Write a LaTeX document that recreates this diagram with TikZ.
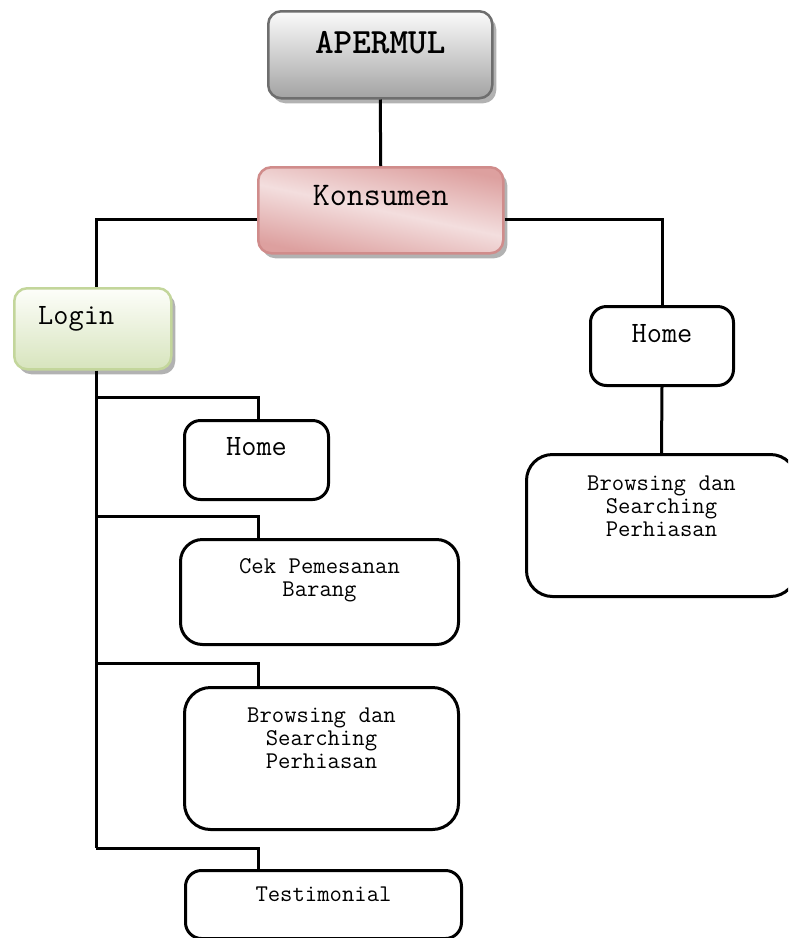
\documentclass[tikz,border=0pt]{standalone}
\usepackage{fontspec}
\usetikzlibrary{shadows}

\definecolor{grayL}{HTML}{FBFBFB}
\definecolor{grayD}{HTML}{A3A3A3}
\definecolor{grayB}{HTML}{6E6E6E}
\definecolor{pinkL}{HTML}{F3DEDE}
\definecolor{pinkD}{HTML}{D99594}
\definecolor{pinkB}{HTML}{D08C8B}
\definecolor{greenL}{HTML}{FDFEFA}
\definecolor{greenD}{HTML}{D7E4BD}
\definecolor{greenB}{HTML}{C3D69B}

\begin{document}
\begin{tikzpicture}[x=1pt,y=-1pt,line width=3pt]
	\tikzstyle{head}=[draw, line width=2.5pt, rounded corners=13pt, anchor=north west, inner sep=0pt, align=center, drop shadow={shadow xshift=4pt, shadow yshift=-5pt, fill=black!30, opacity=1}]
	\tikzstyle{page}=[draw, rounded corners=16pt, anchor=north west, inner sep=0pt, align=center, font=\ttfamily\fontsize{24}{23}\selectfont, execute at begin node={\spaceskip=0.525em\relax}]
	\tikzstyle{big}=[font=\ttfamily\fontsize{29.5}{32}\selectfont]

    \useasboundingbox (0,0) rectangle (788,938);
    \clip (0,0) rectangle (788,938);

    \node [head, top color=grayL, bottom color=grayD, draw=grayB, text width=224pt, text height=42pt, text depth=45pt, font=\ttfamily\bfseries\fontsize{35.5}{38}\selectfont] (apermul) at (267,10) {APERMUL};
    \node [head, top color=pinkD!90, bottom color=pinkD!90, middle color=pinkL, shading angle=-12, draw=pinkB, text width=245pt, text height=38pt, text depth=48pt, font=\ttfamily\fontsize{33}{36}\selectfont] (konsumen) at (257,166) {Konsumen};
    \node [head, top color=greenL, bottom color=greenD, draw=greenB, text width=157pt, text height=36pt, text depth=45pt, align=left, big] (login) at (13,287) {\hspace*{24pt}Login};

    % menu setelah login
    \node [page, big, text width=144pt, text height=35pt, text depth=44pt] (home1) at (183,419) {Home};
    \node [page, text width=278pt, text height=34pt, text depth=71pt, rounded corners=22pt] (cek) at (179,538) {Cek Pemesanan\\Barang};
    \node [page, text width=274pt, text height=35pt, text depth=107pt, rounded corners=26pt] (brows1) at (183,686) {Browsing dan\\Searching\\Perhiasan};
    \node [page, text width=276pt, text height=31pt, text depth=37pt] (testi) at (184,869) {Testimonial};

    % menu tanpa login
    \node [page, big, text width=143pt, text height=36pt, text depth=43pt] (home2) at (589,305) {Home};
    \node [page, text width=270pt, text height=36pt, text depth=106pt, rounded corners=26pt] (brows2) at (525,453) {Browsing dan\\Searching\\Perhiasan};

    \coordinate (spine) at (96,0);

    \draw (apermul.south) -- (konsumen.north);
    \draw ([yshift=-9pt]konsumen.west) -| (spine |- login.north);
    \draw ([yshift=-9pt]konsumen.east) -| (home2.north);
    \draw (home2.south) -- (brows2.north);
    \draw (spine |- login.south) -- (spine |- 0,848);
    \foreach \n/\y in {home1/397, cek/516, brows1/663, testi/848}
        \draw (spine |- 0,\y) -| (258,0 |- \n.north);
\end{tikzpicture}
\end{document}
